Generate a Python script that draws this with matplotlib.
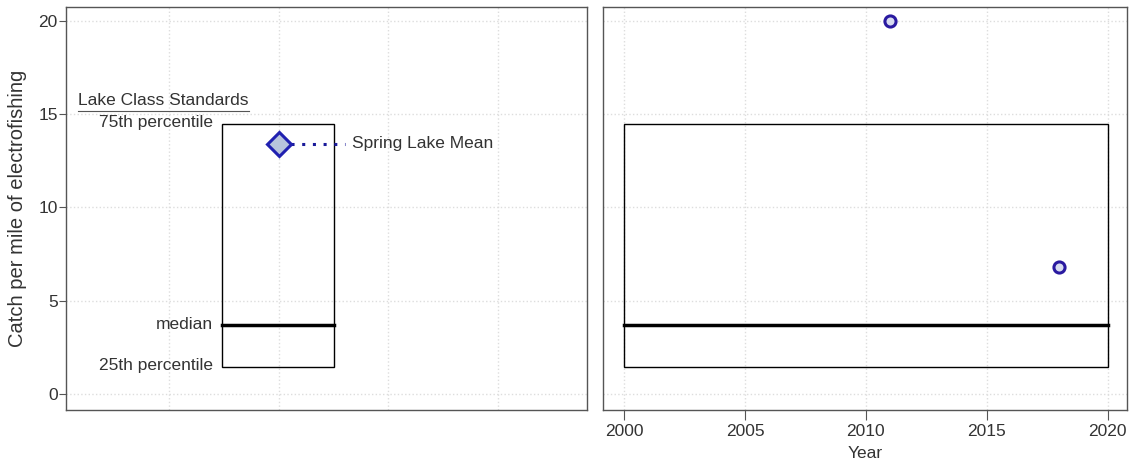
import matplotlib
matplotlib.use("Agg")
import matplotlib.pyplot as plt

# Data
q25 = 1.45
median = 3.7
q75 = 14.5
lake_mean = 13.4
years = [2011, 2018]
catch = [20.0, 6.8]
y_ticks = [0, 5, 10, 15, 20]
x_ticks = [2000, 2005, 2010, 2015, 2020]

plt.rcParams['font.family'] = ['Liberation Sans', 'DejaVu Sans']
txt = '#333333'
spine_c = '#555555'
grid_kw = dict(color='#dddddd', linestyle=':', linewidth=1.0)
fs = 12.5

fig = plt.figure(figsize=(11.33, 4.63), dpi=100)
ax1 = fig.add_axes([66/1133, 1-410/463, (587-66)/1133, (410-7)/463])
ax2 = fig.add_axes([603/1133, 1-410/463, (1127-603)/1133, (410-7)/463])

ylim = (-0.86, 20.75)
for ax in (ax1, ax2):
    ax.set_ylim(*ylim)
    for s in ax.spines.values():
        s.set_color(spine_c)
        s.set_linewidth(1.0)
    ax.set_axisbelow(True)

# Left panel
ax1.set_xlim(0.06, 4.81)
ax1.set_xticks([1, 2, 3, 4])
ax1.tick_params(axis='x', length=0, labelbottom=False)
ax1.set_yticks(y_ticks)
ax1.tick_params(axis='y', length=5, color=spine_c, labelcolor=txt, labelsize=fs, pad=1)
ax1.grid(True, **grid_kw)
ax1.set_ylabel('Catch per mile of electrofishing', fontsize=14.5, color=txt, labelpad=8)

bx0, bx1 = 1.48, 2.5
ax1.add_patch(plt.Rectangle((bx0, q25), bx1 - bx0, q75 - q25, fill=False,
                            edgecolor='black', linewidth=1.0, zorder=3))
ax1.plot([bx0, bx1], [median, median], color='black', linewidth=2.5, zorder=4)
ax1.plot([2.11, 2.6], [lake_mean, lake_mean], color='#1a1a9a', linestyle=(0, (1, 2.5)),
         linewidth=2.2, zorder=4)
ax1.plot([2.0], [lake_mean], marker='D', markersize=12, markerfacecolor='#b8c4dc',
         markeredgecolor='#2020b0', markeredgewidth=2.2, linestyle='none', zorder=5)
ax1.text(2.67, lake_mean + 0.05, 'Spring Lake Mean', fontsize=fs, color=txt, va='center', ha='left')
ax1.text(0.17, 15.75, 'Lake Class Standards', fontsize=fs, color=txt, va='center', ha='left')
ax1.plot([0.17, 1.73], [15.2, 15.2], color='#555555', linewidth=0.8)
ax1.text(1.4, q75 + 0.05, '75th percentile', fontsize=fs, color=txt, va='center', ha='right')
ax1.text(1.4, median + 0.05, 'median', fontsize=fs, color=txt, va='center', ha='right')
ax1.text(1.4, q25 + 0.05, '25th percentile', fontsize=fs, color=txt, va='center', ha='right')

# Right panel
ax2.set_xlim(1999.13, 2020.8)
ax2.set_xticks(x_ticks)
ax2.tick_params(axis='x', length=7, color=spine_c, labelcolor=txt, labelsize=fs, pad=3)
ax2.set_yticks(y_ticks)
ax2.tick_params(axis='y', length=0, labelleft=False)
ax2.grid(True, **grid_kw)
ax2.set_xlabel('Year', fontsize=fs, color=txt, labelpad=5)

ax2.add_patch(plt.Rectangle((x_ticks[0], q25), x_ticks[-1] - x_ticks[0], q75 - q25, fill=False,
                            edgecolor='black', linewidth=1.0, zorder=3))
ax2.plot([x_ticks[0], x_ticks[-1]], [median, median], color='black', linewidth=2.5, zorder=4)
ax2.plot(years, catch, marker='o', markersize=8, markerfacecolor='#d8dcf0',
         markeredgecolor='#2a1aa0', markeredgewidth=2.2, linestyle='none', zorder=5,
         clip_on=False)

fig.savefig('out.png', dpi=100)
